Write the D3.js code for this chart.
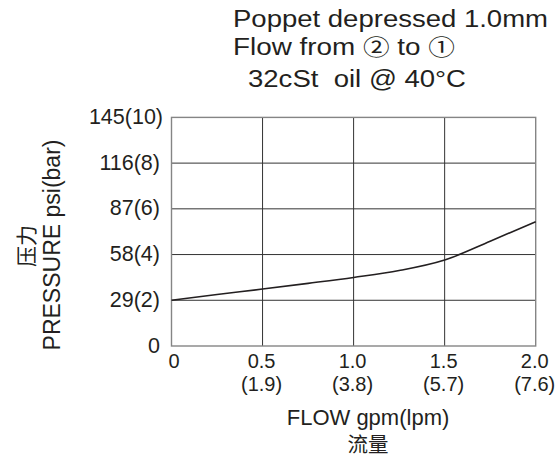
<!DOCTYPE html>
<html>
<head>
<meta charset="utf-8">
<script src="https://cdn.jsdelivr.net/npm/d3@7"></script>
<style>
	body { margin:0; background:#fff; }
	svg text { font-family: "Liberation Sans", Arial, sans-serif; fill:#231f20; white-space: pre; }
</style>
</head>
<body>
<svg id="chart" width="559" height="457"></svg>
<script>
// flow in gpm, pressure in bar
var flow = [0, 0.25, 0.5, 0.75, 1.0, 1.25, 1.5, 1.75, 2.0];
var pressure = [2.0, 2.25, 2.49, 2.74, 3.0, 3.3, 3.76, 4.58, 5.44];

var yTicks = [0, 2, 4, 6, 8, 10];
var yLabels = ['0', '29(2)', '58(4)', '87(6)', '116(8)', '145(10)'];
var xTicks = [0, 0.5, 1.0, 1.5, 2.0];
var xLabels = [['0', ''], ['0.5', '(1.9)'], ['1.0', '(3.8)'], ['1.5', '(5.7)'], ['2.0', '(7.6)']];
var titleLines = ['Poppet depressed 1.0mm', 'Flow from \u2461 to \u2460', '32cSt  oil @ 40\u00b0C'];

var plot = { left:171.5, right:535.7, top:117.4, bottom:346 };

var svg = d3.select('#chart');

var x = d3.scaleLinear().domain([0, 2]).range([plot.left, plot.right]);
var y = d3.scaleLinear().domain([0, 10]).range([plot.bottom, plot.top]);

// grid
svg.append('g')
	.selectAll('line')
	.data(yTicks.slice(1, -1))
	.enter()
	.append('line')
	.attr('x1', plot.left).attr('x2', plot.right)
	.attr('y1', d=>y(d)).attr('y2', d=>y(d))
	.attr('stroke', '#333').attr('stroke-width', 1);

svg.append('g')
	.selectAll('line')
	.data(xTicks.slice(1, -1))
	.enter()
	.append('line')
	.attr('y1', plot.top).attr('y2', plot.bottom)
	.attr('x1', d=>x(d)).attr('x2', d=>x(d))
	.attr('stroke', '#333').attr('stroke-width', 1);

// frame
svg.append('rect')
	.attr('x', plot.left).attr('y', plot.top)
	.attr('width', plot.right - plot.left)
	.attr('height', plot.bottom - plot.top)
	.attr('fill', 'none')
	.attr('stroke', '#858585')
	.attr('stroke-width', 1.4);

// curve
var line = d3.line()
	.x((d,i)=>x(flow[i]))
	.y(d=>y(d))
	.curve(d3.curveMonotoneX);

svg.append('path')
	.datum(pressure)
	.attr('d', line)
	.attr('fill', 'none')
	.attr('stroke', '#231f20')
	.attr('stroke-width', 1.6);

// y tick labels
svg.append('g')
	.selectAll('text')
	.data(yTicks)
	.enter()
	.append('text')
	.attr('x', (d,i)=> i === 5 ? 163 : 160)
	.attr('y', d=>y(d) + 6.5)
	.attr('text-anchor', 'end')
	.style('font-size', '21.5px')
	.text((d,i)=>yLabels[i]);

// x tick labels, two lines each
var xt = svg.append('g')
	.selectAll('g')
	.data(xTicks)
	.enter()
	.append('g');

xt.append('text')
	.attr('x', (d,i)=>x(d) + (i === 0 ? 2.5 : -1))
	.attr('y', 368)
	.attr('text-anchor', 'middle')
	.style('font-size', '20px')
	.text((d,i)=>xLabels[i][0]);

xt.append('text')
	.attr('x', d=>x(d) - 1)
	.attr('y', 390.5)
	.attr('text-anchor', 'middle')
	.style('font-size', '20px')
	.text((d,i)=>xLabels[i][1]);

// axis titles
svg.append('text')
	.attr('x', 368).attr('y', 425)
	.attr('text-anchor', 'middle')
	.style('font-size', '22px')
	.text('FLOW gpm(lpm)');

svg.append('text')
	.attr('x', 368).attr('y', 451.5)
	.attr('text-anchor', 'middle')
	.style('font-size', '20.5px')
	.style('font-family', '"Noto Sans CJK SC"')
	.text('流量');

svg.append('text')
	.attr('transform', 'translate(60,245) rotate(-90)')
	.attr('text-anchor', 'middle')
	.style('font-size', '23px')
	.text('PRESSURE psi(bar)');

svg.append('text')
	.attr('transform', 'translate(34,246) rotate(-90)')
	.attr('text-anchor', 'middle')
	.style('font-size', '21px')
	.style('font-family', '"Noto Sans CJK SC"')
	.text('压力');

// title, circled digits set in the CJK face
var title = svg.append('g')
	.selectAll('text')
	.data(titleLines)
	.enter()
	.append('text')
	.attr('x', (d,i)=> i === 2 ? 248 : 233)
	.attr('y', (d,i)=>[27, 55, 87][i])
	.attr('textLength', (d,i)=>[315, 222, 218][i])
	.attr('lengthAdjust', 'spacingAndGlyphs')
	.style('font-size', '23px');

title.selectAll('tspan')
	.data(d=>d.split(/([\u2460-\u2473])/).filter(s=>s.length))
	.enter()
	.append('tspan')
	.style('font-family', s=>/[\u2460-\u2473]/.test(s) ? '"Noto Sans CJK SC"' : null)
	.style('font-size', s=>/[\u2460-\u2473]/.test(s) ? '22px' : null)
	.text(s=>s);
</script>
</body>
</html>
